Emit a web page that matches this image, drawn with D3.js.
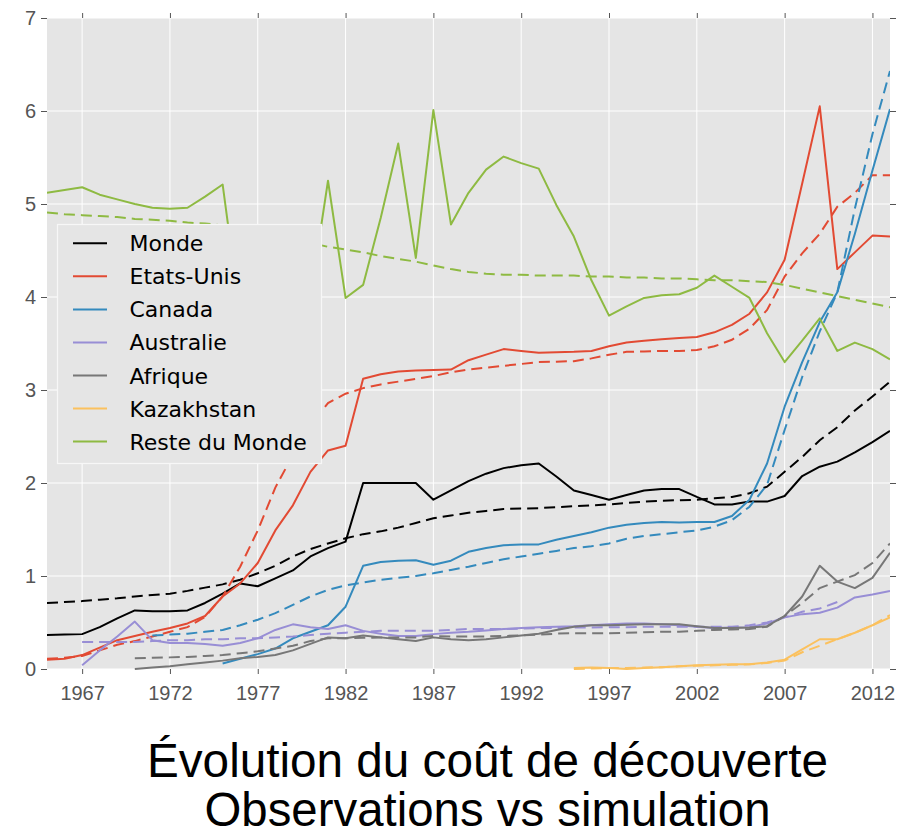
<!DOCTYPE html>
<html><head><meta charset="utf-8">
<script src="https://cdn.jsdelivr.net/npm/d3@7/dist/d3.min.js"></script>
<style>
html,body{margin:0;padding:0;background:#fff;}
svg{display:block;}
</style></head>
<body>
<script>
const years = d3.range(1965, 2014);
const xTicks = [1967, 1972, 1977, 1982, 1987, 1992, 1997, 2002, 2007, 2012];
const yTicks = [0, 1, 2, 3, 4, 5, 6, 7];

// values start at the given year
const mondeObs = {start: 1965, v: [0.365,0.37,0.375,0.45,0.545,0.63,0.62,0.62,0.63,0.71,0.81,0.92,0.89,0.975,1.06,1.21,1.30,1.37,2.0,2.0,2.0,2.0,1.82,1.92,2.02,2.10,2.16,2.19,2.21,2.07,1.92,1.87,1.82,1.87,1.92,1.935,1.935,1.85,1.77,1.77,1.80,1.80,1.86,2.075,2.175,2.23,2.33,2.44,2.56]};
const mondeSim = {start: 1965, v: [0.71,0.72,0.73,0.745,0.76,0.78,0.795,0.81,0.84,0.875,0.91,0.96,1.03,1.11,1.21,1.29,1.35,1.405,1.45,1.48,1.52,1.57,1.62,1.65,1.68,1.70,1.72,1.725,1.73,1.74,1.75,1.76,1.77,1.785,1.80,1.81,1.815,1.82,1.835,1.85,1.89,1.96,2.12,2.28,2.46,2.60,2.78,2.93,3.09]};
const usObs = {start: 1965, v: [0.10,0.11,0.15,0.23,0.31,0.355,0.40,0.44,0.49,0.57,0.78,0.92,1.14,1.49,1.76,2.12,2.35,2.40,3.12,3.17,3.20,3.21,3.215,3.22,3.32,3.38,3.44,3.42,3.40,3.405,3.41,3.42,3.47,3.51,3.53,3.545,3.56,3.57,3.62,3.70,3.82,4.05,4.40,5.22,6.05,4.30,4.48,4.66,4.65]};
const usSim = {start: 1965, v: [0.11,0.12,0.14,0.20,0.26,0.30,0.35,0.40,0.45,0.56,0.78,1.10,1.49,1.95,2.30,2.62,2.86,2.96,3.02,3.06,3.09,3.12,3.15,3.19,3.22,3.24,3.26,3.28,3.30,3.305,3.31,3.34,3.38,3.41,3.415,3.42,3.42,3.43,3.47,3.54,3.66,3.86,4.22,4.47,4.68,4.97,5.12,5.31,5.31]};
const canObs = {start: 1975, v: [0.06,0.11,0.16,0.22,0.33,0.40,0.47,0.67,1.11,1.15,1.165,1.17,1.12,1.165,1.26,1.30,1.33,1.34,1.34,1.39,1.43,1.47,1.52,1.55,1.57,1.58,1.575,1.58,1.58,1.645,1.82,2.21,2.82,3.30,3.73,4.05,4.68,5.36,6.02]};
const canSim = {start: 1971, v: [0.36,0.37,0.38,0.40,0.42,0.47,0.53,0.60,0.69,0.78,0.85,0.90,0.93,0.96,0.98,1.0,1.03,1.065,1.10,1.14,1.18,1.21,1.24,1.27,1.30,1.32,1.35,1.40,1.43,1.45,1.47,1.49,1.53,1.60,1.745,1.98,2.57,3.14,3.63,4.05,4.95,5.75,6.43]};
const ausObs = {start: 1967, v: [0.04,0.20,0.35,0.51,0.31,0.28,0.28,0.27,0.25,0.28,0.33,0.42,0.48,0.45,0.43,0.47,0.41,0.38,0.355,0.355,0.375,0.39,0.40,0.415,0.43,0.44,0.45,0.455,0.46,0.47,0.48,0.49,0.49,0.48,0.47,0.455,0.44,0.445,0.45,0.49,0.555,0.59,0.605,0.66,0.77,0.80,0.84]};
const ausSim = {start: 1967, v: [0.29,0.29,0.29,0.29,0.30,0.31,0.31,0.32,0.32,0.33,0.33,0.34,0.35,0.365,0.38,0.39,0.40,0.41,0.41,0.41,0.41,0.42,0.43,0.43,0.43,0.435,0.44,0.44,0.445,0.445,0.45,0.45,0.455,0.455,0.455,0.455,0.455,0.455,0.47,0.50,0.555,0.615,0.65,0.72]};
const afrObs = {start: 1970, v: [0.0,0.015,0.03,0.05,0.07,0.09,0.115,0.13,0.15,0.20,0.27,0.34,0.33,0.36,0.34,0.32,0.30,0.34,0.32,0.31,0.32,0.34,0.36,0.38,0.42,0.455,0.47,0.47,0.475,0.48,0.48,0.48,0.46,0.44,0.44,0.445,0.46,0.57,0.78,1.11,0.94,0.87,0.98,1.25]};
const afrSim = {start: 1970, v: [0.115,0.12,0.125,0.13,0.14,0.15,0.17,0.19,0.22,0.25,0.30,0.33,0.33,0.335,0.34,0.34,0.34,0.355,0.35,0.35,0.35,0.355,0.36,0.37,0.38,0.385,0.385,0.385,0.39,0.395,0.40,0.40,0.41,0.42,0.425,0.43,0.455,0.57,0.71,0.87,0.94,1.01,1.14,1.35]};
const kazObs = {start: 1995, v: [0.01,0.015,0.01,0.0,0.01,0.02,0.03,0.04,0.045,0.05,0.05,0.07,0.10,0.21,0.32,0.32,0.39,0.47,0.555]};
const kazSim = {start: 1995, v: [0.0,0.005,0.01,0.01,0.015,0.02,0.03,0.035,0.04,0.045,0.05,0.065,0.09,0.18,0.25,0.32,0.39,0.47,0.58]};
const rdmObs = {start: 1965, v: [5.12,5.15,5.18,5.10,5.05,5.0,4.96,4.95,4.96,5.08,5.21,3.8,3.9,4.0,4.0,4.0,5.25,3.99,4.13,4.85,5.65,4.42,6.01,4.78,5.12,5.37,5.51,5.44,5.38,4.99,4.65,4.18,3.80,3.90,3.99,4.02,4.03,4.10,4.23,4.11,3.99,3.61,3.30,3.53,3.77,3.42,3.51,3.44,3.33]};
const rdmSim = {start: 1965, v: [4.91,4.89,4.88,4.87,4.86,4.84,4.83,4.82,4.80,4.79,4.77,4.75,4.72,4.68,4.63,4.58,4.54,4.51,4.48,4.44,4.41,4.38,4.34,4.30,4.27,4.25,4.24,4.24,4.23,4.23,4.23,4.22,4.22,4.21,4.21,4.20,4.20,4.19,4.18,4.18,4.17,4.16,4.13,4.09,4.05,4.01,3.97,3.93,3.89]};

const seriesNames = ["Monde","Etats-Unis","Canada","Australie","Afrique","Kazakhstan","Reste du Monde"];
const seriesColors = ["#000000","#E24A33","#348ABD","#988ED5","#777777","#FBC15E","#8EBA42"];
const obsList = [mondeObs, usObs, canObs, ausObs, afrObs, kazObs, rdmObs];
const simList = [mondeSim, usSim, canSim, ausSim, afrSim, kazSim, rdmSim];

const W = 906, H = 835;
const L = 47, R = 890, T = 18, B = 669;

const svg = d3.select("body").append("svg").attr("width", W).attr("height", H);

const x = d3.scaleLinear().domain([1965, 2013]).range([L, R]);
const y = d3.scaleLinear().domain([0, 7]).range([B, T]);

svg.append("rect").attr("x", L).attr("y", T).attr("width", R - L).attr("height", B - T).attr("fill", "#E5E5E5");

// grid
svg.append("g").selectAll("line").data(xTicks).join("line")
  .attr("x1", d => x(d)).attr("x2", d => x(d)).attr("y1", T).attr("y2", B)
  .attr("stroke", "#fff").attr("stroke-width", 1);
svg.append("g").selectAll("line").data(yTicks).join("line")
  .attr("x1", L).attr("x2", R).attr("y1", d => y(d)).attr("y2", d => y(d))
  .attr("stroke", "#fff").attr("stroke-width", 1);

function styleAxis(g) {
  g.select(".domain").remove();
  g.selectAll(".tick line").attr("stroke", "#555").attr("stroke-width", 1);
  g.selectAll(".tick text").attr("fill", "#555").style("font-family", "'Liberation Sans', Arial, sans-serif").style("font-size", "20px");
}

svg.append("g").attr("transform", `translate(0,${B})`)
  .call(d3.axisBottom(x).tickValues(xTicks).tickFormat(d3.format("d")).tickSize(5).tickPadding(12))
  .call(styleAxis);
svg.append("g").attr("transform", `translate(0,${T})`)
  .call(d3.axisTop(x).tickValues(xTicks).tickFormat("").tickSize(5))
  .call(styleAxis);
svg.append("g").attr("transform", `translate(${L},0)`)
  .call(d3.axisLeft(y).tickValues(yTicks).tickFormat(d3.format("d")).tickSize(6).tickPadding(5))
  .call(styleAxis);
svg.append("g").attr("transform", `translate(${R},0)`)
  .call(d3.axisRight(y).tickValues(yTicks).tickFormat("").tickSize(6))
  .call(styleAxis);

svg.append("clipPath").attr("id", "clip").append("rect")
  .attr("x", L).attr("y", T - 2).attr("width", R - L).attr("height", B - T + 4);

const line = d3.line().x(d => x(d[0])).y(d => y(d[1]));
const toPts = s => s.v.map((v, i) => [s.start + i, v]);

const plot = svg.append("g").attr("clip-path", "url(#clip)");
seriesNames.forEach((name, i) => {
  plot.append("path").datum(toPts(obsList[i])).attr("d", line)
    .attr("fill", "none").attr("stroke", seriesColors[i]).attr("stroke-width", 2)
    .attr("stroke-linejoin", "round");
  plot.append("path").datum(toPts(simList[i])).attr("d", line)
    .attr("fill", "none").attr("stroke", seriesColors[i]).attr("stroke-width", 2)
    .attr("stroke-dasharray", "11,6");
});

// legend
const lg = svg.append("g");
lg.append("rect").attr("x", 57.5).attr("y", 224.5).attr("width", 264).attr("height", 239)
  .attr("fill", "#E5E5E5").attr("stroke", "#f7f7f7").attr("stroke-width", 1.2);
seriesNames.forEach((name, i) => {
  const cy = 243.3 + i * 33.05;
  lg.append("line").attr("x1", 73).attr("x2", 107).attr("y1", cy).attr("y2", cy)
    .attr("stroke", seriesColors[i]).attr("stroke-width", 2);
  lg.append("text").attr("x", 129.5).attr("y", cy + 8)
    .style("font-family", "'DejaVu Sans', sans-serif").style("font-size", "22px")
    .attr("fill", "#000").text(name);
});

// title
const titleLines = ["Évolution du coût de découverte", "Observations vs simulation"];
const titleWidths = [681, 566];
const titleBase = [777, 826];
titleLines.forEach((t, i) => {
  svg.append("text").attr("x", 487.5).attr("y", titleBase[i]).attr("text-anchor", "middle")
    .style("font-family", "'Liberation Sans', Arial, sans-serif").style("font-size", "48px")
    .attr("textLength", titleWidths[i]).attr("lengthAdjust", "spacingAndGlyphs")
    .attr("fill", "#000").text(t);
});
</script>
</body></html>
